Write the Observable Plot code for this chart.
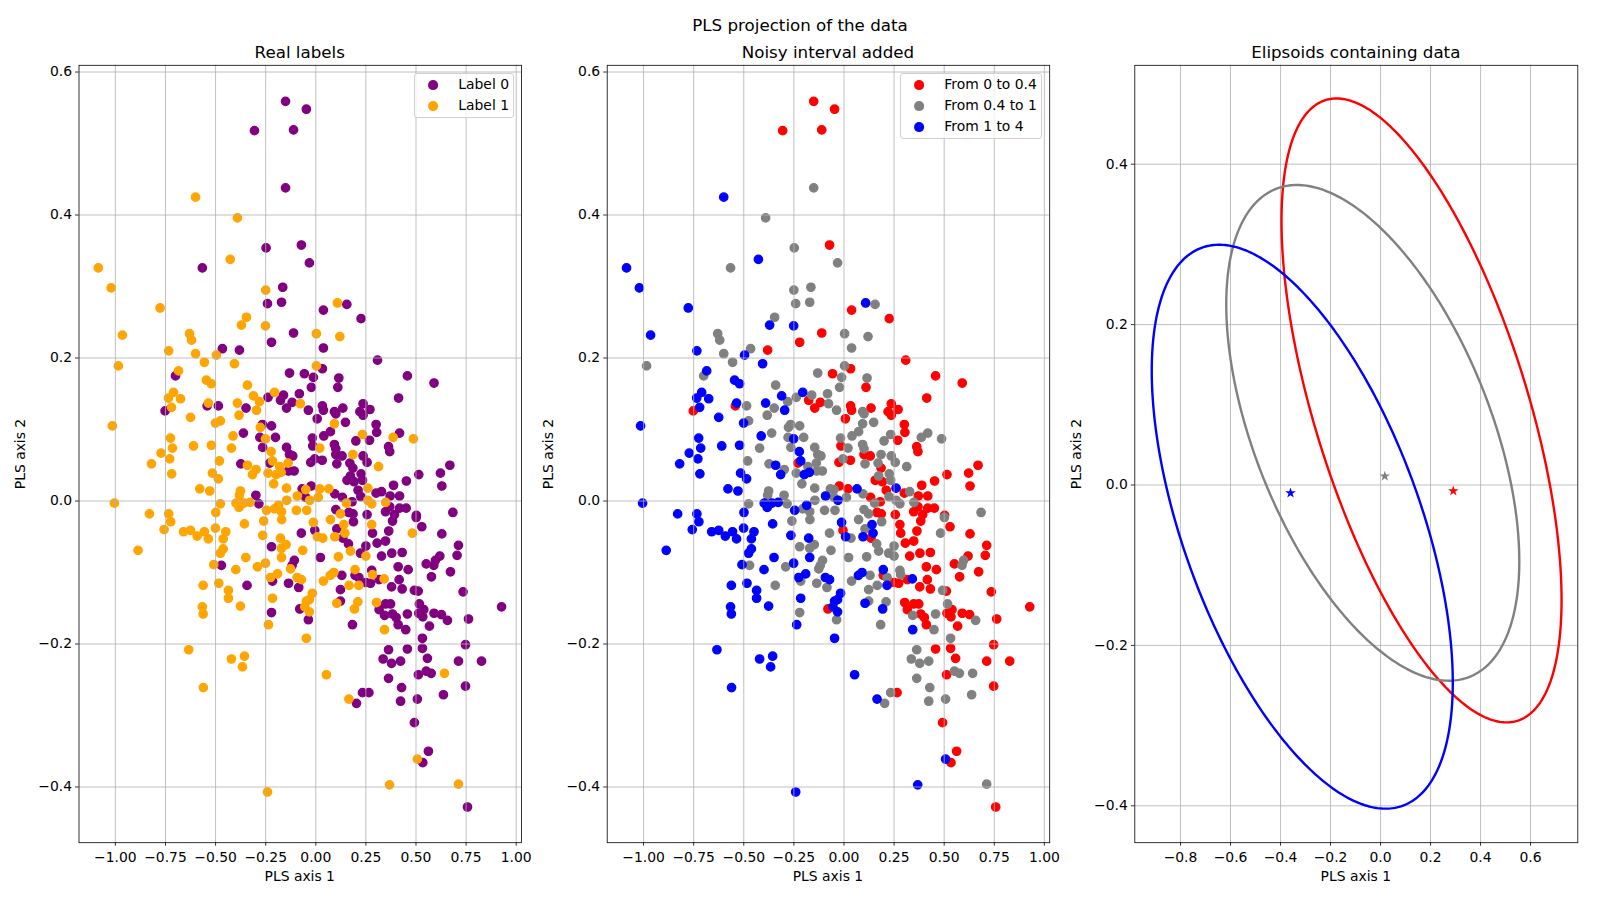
<!DOCTYPE html>
<html>
<head>
<meta charset="utf-8">
<script src="https://cdn.jsdelivr.net/npm/d3@7"></script>
<script src="https://cdn.jsdelivr.net/npm/@observablehq/plot@0.6"></script>
<style>
html,body{margin:0;padding:0;background:#fff;}
#fig{position:relative;width:1600px;height:900px;overflow:hidden;background:#fff;font-family:"DejaVu Sans",sans-serif;color:#000;}
.txt{position:absolute;white-space:nowrap;line-height:1;transform:translate(-50%,-50%);}
.big{font-size:16.7px;}
.small{font-size:13.9px;}
.ylab{transform:translate(-50%,-50%) rotate(-90deg);}
.legend{position:absolute;background:rgba(255,255,255,0.8);border:1px solid #d0d0d0;border-radius:3px;box-sizing:border-box;}
.sw{position:absolute;width:9.8px;height:9.8px;border-radius:50%;transform:translate(-50%,-50%);}
.lt{position:absolute;font-size:13.9px;line-height:1;white-space:nowrap;transform:translateY(-50%);}
</style>
</head>
<body>
<div id="fig"></div>
<script>
// ---------- data: PLS projection (x = PLS axis 1, y = PLS axis 2, real label) ----------
const labelNames = ["Label 0", "Label 1"];
const intervalNames = ["From 0 to 0.4", "From 0.4 to 1", "From 1 to 4"];

// points whose noisy interval is "From 0 to 0.4"  [pls1, pls2, label]
const redPoints = [
[-0.151,0.559,0],[-0.047,0.548,0],[-0.306,0.518,0],[-0.111,0.519,0],[-0.072,0.358,0],[0.038,0.267,0],
[0.226,0.255,0],[-0.111,0.235,0],[-0.221,0.222,0],[-0.381,0.211,0],[0.308,0.197,0],[0.033,0.185,0],
[-0.057,0.178,0],[0.457,0.175,0],[0.590,0.165,0],[0.110,0.159,0],[0.413,0.144,0],[-0.176,0.141,0],
[-0.118,0.138,0],[-0.542,0.133,0],[0.236,0.136,0],[-0.146,0.130,0],[0.033,0.133,0],[-0.752,0.126,0],
[0.038,0.127,0],[0.135,0.130,0],[0.220,0.125,0],[0.270,0.128,0],[0.236,0.120,0],[0.007,0.115,0],
[0.301,0.107,0],[0.304,0.096,0],[0.268,0.085,0],[-0.015,0.077,0],[0.363,0.076,0],[0.369,0.069,0],
[0.100,0.065,0],[0.131,0.063,0],[0.032,0.057,0],[-0.025,0.054,0],[-0.230,0.053,0],[0.669,0.050,0],
[0.185,0.046,0],[0.514,0.037,0],[0.622,0.039,0],[0.156,0.029,0],[0.191,0.027,0],[0.452,0.028,0],
[0.629,0.021,0],[0.388,0.022,0],[-0.023,0.021,0],[0.020,0.017,1],[0.211,0.015,0],[0.301,0.011,0],
[0.371,0.007,0],[0.418,0.007,0],[0.133,0.005,0],[0.181,-0.001,0],[0.369,-0.008,0],[0.418,-0.010,0],
[0.451,-0.010,0],[0.165,-0.016,0],[0.256,-0.019,0],[0.186,-0.018,0],[0.502,-0.020,0],[0.393,-0.019,0],
[0.348,-0.015,0],[0.279,-0.033,1],[0.383,-0.028,0],[0.529,-0.036,0],[-0.005,-0.041,0],[0.135,-0.052,0],
[0.283,-0.045,0],[0.364,-0.042,0],[0.629,-0.046,0],[0.306,-0.059,0],[0.348,-0.056,0],[0.712,-0.062,0],
[0.328,-0.077,0],[0.379,-0.073,0],[0.431,-0.072,0],[0.619,-0.077,0],[0.705,-0.076,0],[0.551,-0.088,0],
[0.196,-0.104,0],[0.250,-0.114,0],[0.273,-0.115,0],[0.316,-0.110,0],[0.411,-0.092,0],[0.461,-0.096,0],
[0.416,-0.110,0],[0.378,-0.120,0],[0.431,-0.123,0],[0.577,-0.106,0],[0.672,-0.099,0],[0.511,-0.126,0],
[0.735,-0.127,0],[-0.080,-0.151,0],[0.303,-0.142,1],[0.316,-0.152,0],[0.348,-0.144,0],[0.373,-0.144,0],
[0.383,-0.158,0],[0.401,-0.163,0],[0.411,-0.173,0],[0.514,-0.157,0],[0.539,-0.152,0],[0.534,-0.162,0],
[0.590,-0.157,0],[0.627,-0.159,0],[0.567,-0.175,0],[0.762,-0.165,0],[0.927,-0.148,0],[0.747,-0.201,0],
[0.457,-0.207,0],[0.532,-0.206,0],[0.557,-0.220,0],[0.712,-0.224,0],[0.827,-0.224,0],[0.512,-0.243,0],
[0.747,-0.259,0],[0.265,-0.268,0],[0.492,-0.310,0],[0.562,-0.350,0],[0.534,-0.366,0],[0.757,-0.428,0]
];

// points whose noisy interval is "From 0.4 to 1"  [pls1, pls2, label]
const grayPoints = [
[-0.151,0.438,0],[-0.391,0.396,1],[-0.248,0.354,0],[-0.032,0.333,0],[-0.566,0.326,0],[-0.250,0.295,1],
[-0.165,0.299,0],[-0.241,0.276,0],[-0.171,0.278,0],[0.155,0.275,0],[-0.346,0.257,1],[-0.630,0.234,1],
[-0.620,0.225,1],[0.003,0.234,1],[0.120,0.230,1],[0.038,0.214,0],[-0.466,0.213,0],[-0.600,0.206,1],
[-0.556,0.194,1],[-0.985,0.189,1],[0.003,0.189,1],[-0.700,0.175,0],[-0.131,0.179,0],[-0.012,0.173,0],
[0.115,0.172,0],[-0.341,0.162,1],[-0.022,0.159,0],[-0.082,0.150,0],[-0.161,0.148,0],[-0.238,0.145,0],
[-0.281,0.139,1],[-0.077,0.136,1],[-0.486,0.133,0],[-0.348,0.130,0],[-0.037,0.127,0],[0.093,0.125,0],
[-0.383,0.120,1],[0.100,0.122,0],[-0.476,0.112,1],[0.148,0.110,0],[-0.266,0.107,0],[-0.277,0.103,1],
[-0.221,0.105,0],[0.093,0.108,1],[0.040,0.091,0],[0.073,0.097,0],[0.233,0.093,1],[0.418,0.095,0],
[0.487,0.087,1],[0.386,0.089,1],[-0.361,0.095,0],[-0.279,0.089,0],[-0.201,0.089,0],[-0.017,0.088,0],
[0.200,0.084,0],[0.020,0.074,1],[0.093,0.079,0],[0.100,0.073,0],[-0.421,0.074,1],[-0.265,0.075,0],
[-0.146,0.075,0],[-0.131,0.065,0],[-0.115,0.063,0],[0.185,0.065,1],[0.236,0.063,0],[-0.005,0.059,0],
[0.256,0.054,0],[-0.481,0.056,1],[-0.138,0.053,1],[-0.374,0.052,0],[0.105,0.052,0],[0.170,0.053,0],
[0.313,0.048,1],[-0.298,0.044,1],[-0.180,0.048,1],[-0.108,0.042,0],[0.173,0.035,0],[0.226,0.038,0],
[-0.238,0.039,1],[-0.136,0.042,0],[0.233,0.029,0],[-0.210,0.024,1],[-0.376,0.014,1],[-0.146,0.018,1],
[-0.068,0.017,0],[-0.050,0.016,1],[0.095,0.010,0],[0.328,0.013,0],[-0.381,0.008,1],[-0.299,0.008,0],
[-0.050,0.005,0],[0.012,0.005,1],[0.225,0.006,0],[0.260,0.001,1],[-0.476,-0.004,1],[-0.284,-0.004,0],
[-0.145,0.001,1],[0.153,-0.003,1],[0.279,-0.004,1],[0.349,-0.002,1],[-0.206,-0.011,1],[-0.097,-0.013,1],
[-0.045,-0.013,1],[0.100,-0.012,0],[0.123,-0.018,1],[0.684,-0.016,0],[-0.171,-0.015,1],[0.501,-0.023,0],
[-0.260,-0.028,1],[-0.170,-0.026,1],[0.073,-0.026,1],[0.188,-0.029,0],[-0.072,-0.045,0],[0.035,-0.052,1],
[0.105,-0.039,0],[0.482,-0.045,1],[0.163,-0.060,0],[0.250,-0.063,0],[-0.221,-0.064,0],[-0.171,-0.066,1],
[-0.148,-0.061,1],[-0.065,-0.069,1],[-0.107,-0.083,0],[-0.118,-0.090,0],[-0.126,-0.095,1],[0.023,-0.079,0],
[0.113,-0.078,1],[0.173,-0.070,1],[0.223,-0.073,0],[0.250,-0.077,1],[0.597,-0.083,0],[0.589,-0.090,0],
[-0.471,-0.090,0],[-0.291,-0.092,1],[-0.216,-0.112,0],[-0.136,-0.115,0],[-0.085,-0.121,0],[0.130,-0.104,0],
[0.038,-0.112,1],[0.215,-0.107,0],[0.279,-0.097,0],[0.283,-0.103,1],[0.492,-0.125,0],[-0.343,-0.118,0],
[0.123,-0.124,0],[0.166,-0.118,1],[-0.037,-0.166,0],[0.123,-0.140,0],[0.210,-0.141,1],[0.343,-0.160,0],
[0.449,-0.180,0],[0.457,-0.158,0],[0.517,-0.144,0],[0.657,-0.167,0],[-0.221,-0.156,0],[0.183,-0.173,0],
[0.532,-0.192,0],[0.363,-0.208,0],[0.336,-0.221,0],[0.378,-0.227,0],[0.423,-0.224,0],[0.363,-0.248,0],
[0.551,-0.238,0],[0.576,-0.241,0],[0.642,-0.241,1],[0.428,-0.261,0],[0.233,-0.268,0],[0.203,-0.283,0],
[0.423,-0.280,0],[0.507,-0.277,0],[0.637,-0.271,0],[0.712,-0.396,1]
];

// points whose noisy interval is "From 1 to 4" (all of them carry Label 1)  [pls1, pls2]
const bluePointsLabel = 1;
const bluePoints = [
[-0.600,0.425],[-0.427,0.338],[-1.085,0.326],[-1.021,0.298],[-0.777,0.270],[0.108,0.277],
[-0.371,0.246],[-0.251,0.245],[-0.965,0.232],[-0.734,0.210],[-0.496,0.204],[-0.406,0.192],
[-0.685,0.182],[-0.546,0.169],[-0.521,0.164],[-0.710,0.152],[-0.206,0.152],[-0.311,0.147],
[-0.735,0.144],[-0.675,0.143],[-0.536,0.137],[-0.391,0.137],[-0.720,0.131],[-0.296,0.127],
[-0.625,0.117],[-0.501,0.109],[-1.015,0.105],[-0.413,0.091],[-0.725,0.088],[-0.251,0.087],
[-0.715,0.074],[-0.610,0.077],[-0.521,0.078],[-0.223,0.069],[-0.772,0.067],[-0.729,0.059],
[-0.820,0.052],[-0.216,0.056],[-0.341,0.050],[-0.719,0.038],[-0.516,0.039],[-0.486,0.031],
[-0.316,0.037],[-0.198,0.037],[-0.173,0.040],[-0.579,0.017],[-0.529,0.014],[0.065,0.017],
[0.260,0.018],[-0.092,0.007],[-0.030,0.001],[-1.005,-0.003],[-0.398,-0.003],[-0.359,-0.003],
[-0.328,-0.002],[-0.186,-0.006],[-0.383,-0.009],[-0.246,-0.013],[-0.830,-0.018],[-0.734,-0.018],
[-0.499,-0.016],[-0.724,-0.029],[-0.356,-0.032],[-0.012,-0.030],[0.140,-0.033],[-0.757,-0.040],
[-0.660,-0.043],[-0.625,-0.041],[-0.556,-0.043],[-0.592,-0.049],[-0.536,-0.053],[-0.501,-0.038],
[-0.449,-0.043],[-0.462,-0.053],[-0.265,-0.048],[0.008,-0.050],[0.095,-0.050],[0.145,-0.045],
[-0.176,-0.052],[-0.887,-0.069],[-0.462,-0.067],[-0.476,-0.073],[-0.349,-0.079],[-0.251,-0.087],
[-0.171,-0.079],[-0.509,-0.089],[-0.399,-0.096],[-0.226,-0.107],[-0.191,-0.102],[-0.093,-0.107],
[-0.072,-0.110],[0.072,-0.104],[0.090,-0.100],[0.196,-0.096],[0.341,-0.109],[-0.562,-0.118],
[-0.484,-0.115],[-0.436,-0.125],[-0.436,-0.136],[-0.017,-0.129],[0.215,-0.118],[-0.216,-0.136],
[-0.047,-0.140],[-0.032,-0.138],[-0.055,-0.148],[-0.032,-0.155],[0.105,-0.143],[0.193,-0.151],
[-0.566,-0.148],[-0.562,-0.158],[-0.376,-0.147],[-0.236,-0.173],[0.343,-0.180],[-0.047,-0.192],
[-0.634,-0.208],[-0.421,-0.221],[-0.356,-0.217],[-0.366,-0.232],[0.053,-0.243],[-0.561,-0.261],
[0.165,-0.277],[0.507,-0.361],[-0.241,-0.407],[0.368,-0.397]
];

// ellipsoids (centre and covariance-like shape per interval) and centroid stars
const ellipseCX   = [0.164, -0.031, -0.313];
const ellipseCY   = [0.093,  0.065, -0.052];
const ellipseVarX = [0.3136, 0.3434, 0.3624];
const ellipseCovXY= [-0.1322, -0.0938, -0.117];
const ellipseVarY = [0.1513, 0.0955, 0.1236];
const centroidX   = [0.291, 0.017, -0.360];
const centroidY   = [-0.0075, 0.011, -0.010];

// tick values
const xTicksScatter = [-1.0, -0.75, -0.5, -0.25, 0, 0.25, 0.5, 0.75, 1.0];
const yTicksScatter = [-0.4, -0.2, 0, 0.2, 0.4, 0.6];
const xTicksEllipse = [-0.8, -0.6, -0.4, -0.2, 0, 0.2, 0.4, 0.6];
const yTicksEllipse = [-0.4, -0.2, 0, 0.2, 0.4];

const labelColors = ["purple", "orange"];
const intervalColors = ["red", "gray", "blue"];

// ---------- build tables ----------
const rows = [];
redPoints.forEach(([x, y, l]) => rows.push({x, y, label: labelNames[l], interval: intervalNames[0]}));
grayPoints.forEach(([x, y, l]) => rows.push({x, y, label: labelNames[l], interval: intervalNames[1]}));
bluePoints.forEach(([x, y]) => rows.push({x, y, label: labelNames[bluePointsLabel], interval: intervalNames[2]}));
const rowsByLabel = d3.sort(rows, d => labelNames.indexOf(d.label));

const ellipseRows = [];
intervalNames.forEach((name, k) => {
  const a = Math.sqrt(ellipseVarX[k]);
  const b = ellipseCovXY[k] / a;
  const c = Math.sqrt(ellipseVarY[k] - b * b);
  for (let i = 0; i <= 360; i++) {
    const t = i * Math.PI / 180;
    ellipseRows.push({group: name, x: ellipseCX[k] + a * Math.cos(t), y: ellipseCY[k] + b * Math.cos(t) + c * Math.sin(t)});
  }
});
const starRows = intervalNames.map((name, k) => ({group: name, x: centroidX[k], y: centroidY[k]}));

const fmt = n => v => (v < 0 ? "\u2212" : "") + Math.abs(v).toFixed(n);
const gridStyle = {stroke: "#b0b0b0", strokeOpacity: 1, strokeWidth: 0.8};
const baseStyle = {fontFamily: "DejaVu Sans", fontSize: "13.9px", color: "black", background: "transparent", overflow: "visible"};
const H = 900, MT = 64.8, MB = 57.8;

function axesMarks(xt, yt, xf, yf) {
  return [
    Plot.axisX({ticks: xt, tickFormat: fmt(xf), tickSize: 3.5, tickPadding: 5.5, strokeWidth: 0.8, label: null}),
    Plot.axisY({ticks: yt, tickFormat: fmt(yf), tickSize: 3.5, tickPadding: 3.5, strokeWidth: 0.8, label: null}),
    Plot.frame({stroke: "black", strokeWidth: 0.8})
  ];
}

const fig = document.getElementById("fig");
function place(svg, left) {
  svg.style.position = "absolute";
  svg.style.left = left + "px";
  svg.style.top = "0px";
  fig.appendChild(svg);
}

const xDomScatter = [-1.1815, 1.0265];
const yDomScatter = [-0.4779, 0.6094];

// Panel 1: real labels
place(Plot.plot({
  width: 540, height: H, marginLeft: 78.5, marginRight: 19, marginTop: MT, marginBottom: MB,
  style: baseStyle,
  x: {domain: xDomScatter},
  y: {domain: yDomScatter},
  color: {domain: labelNames, range: labelColors},
  marks: [
    Plot.dot(rowsByLabel, {x: "x", y: "y", fill: "label", stroke: "label", strokeWidth: 1.3, r: 4.2}),
    Plot.gridX({ticks: xTicksScatter, ...gridStyle}),
    Plot.gridY({ticks: yTicksScatter, ...gridStyle}),
    ...axesMarks(xTicksScatter, yTicksScatter, 2, 1)
  ]
}), 0);

// Panel 2: noisy interval
place(Plot.plot({
  width: 530, height: H, marginLeft: 66.7, marginRight: 20.8, marginTop: MT, marginBottom: MB,
  style: baseStyle,
  x: {domain: xDomScatter},
  y: {domain: yDomScatter},
  color: {domain: intervalNames, range: intervalColors},
  marks: [
    Plot.dot(rows, {x: "x", y: "y", fill: "interval", stroke: "interval", strokeWidth: 1.3, r: 4.2}),
    Plot.gridX({ticks: xTicksScatter, ...gridStyle}),
    Plot.gridY({ticks: yTicksScatter, ...gridStyle}),
    ...axesMarks(xTicksScatter, yTicksScatter, 2, 1)
  ]
}), 540);

// Panel 3: ellipsoids
place(Plot.plot({
  width: 530, height: H, marginLeft: 64.3, marginRight: 22.7, marginTop: MT, marginBottom: MB,
  style: baseStyle,
  x: {domain: [-0.9828, 0.789]},
  y: {domain: [-0.446, 0.5233]},
  color: {domain: intervalNames, range: intervalColors},
  marks: [
    Plot.gridX({ticks: xTicksEllipse, ...gridStyle}),
    Plot.gridY({ticks: yTicksEllipse, ...gridStyle}),
    Plot.line(ellipseRows, {x: "x", y: "y", z: "group", stroke: "group", strokeWidth: 2.4}),
    Plot.dot(starRows, {x: "x", y: "y", fill: "group", symbol: "star", r: 3.3}),
    ...axesMarks(xTicksEllipse, yTicksEllipse, 1, 1)
  ]
}), 1070);

// ---------- texts ----------
function addText(str, cls, x, y) {
  const d = document.createElement("div");
  d.className = "txt " + cls;
  d.textContent = str;
  d.style.left = x + "px";
  d.style.top = y + "px";
  fig.appendChild(d);
}
const panelCenters = [299.75, 827.95, 1355.8];
const yLabelX = [20.7, 549, 1076.5];
const panelTitles = ["Real labels", "Noisy interval added", "Elipsoids containing data"];
addText("PLS projection of the data", "big", 800, 24.5);
panelTitles.forEach((t, i) => addText(t, "big", panelCenters[i], 51.5));
panelCenters.forEach(c => addText("PLS axis 1", "small", c, 877));
yLabelX.forEach(x => addText("PLS axis 2", "small ylab", x, 453.5));

// ---------- legends ----------
function addLegend(left, top, w, h, swX, textX, ys, names, colors) {
  const box = document.createElement("div");
  box.className = "legend";
  Object.assign(box.style, {left: left + "px", top: top + "px", width: w + "px", height: h + "px"});
  fig.appendChild(box);
  names.forEach((n, i) => {
    const s = document.createElement("div");
    s.className = "sw";
    Object.assign(s.style, {left: swX + "px", top: ys[i] + "px", background: colors[i]});
    fig.appendChild(s);
    const t = document.createElement("div");
    t.className = "lt";
    t.textContent = n;
    Object.assign(t.style, {left: textX + "px", top: ys[i] + "px"});
    fig.appendChild(t);
  });
}
addLegend(413.5, 72.7, 100.8, 45, 433.3, 458.3, [84.8, 106], labelNames, labelColors);
addLegend(899.7, 72.7, 142.3, 66, 919.3, 944.3, [85, 106.2, 127.2], intervalNames, intervalColors);
</script>
</body>
</html>
